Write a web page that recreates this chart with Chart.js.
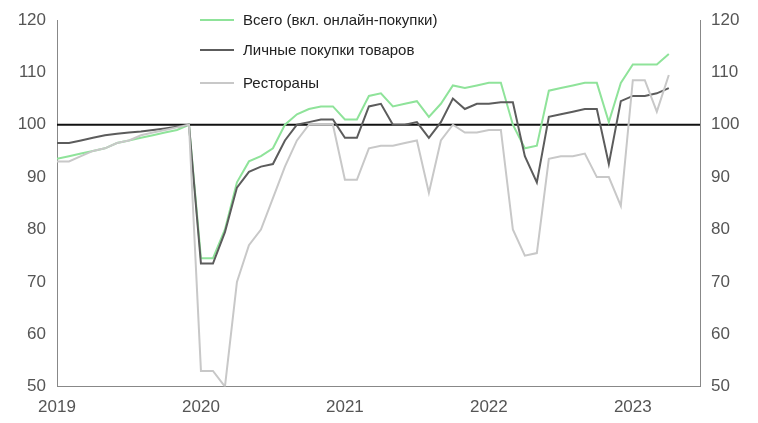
<!DOCTYPE html><html><head><meta charset="utf-8">
<script src="https://cdn.jsdelivr.net/npm/chart.js@4"></script>
<style>body{margin:0;background:#fff;font-family:"Liberation Sans",Arial,sans-serif}
#w{position:relative;width:758px;height:423px}
.lg{position:absolute;left:200px;font-size:15px;color:#222;display:flex;align-items:center}
.lg span{display:inline-block;width:34px;height:2px;margin-right:9px}</style></head><body>
<div id="w"><canvas id="c" width="758" height="423"></canvas>
<div class="lg" style="top:11px"><span style="background:#8fe39a"></span>Всего (вкл. онлайн-покупки)</div>
<div class="lg" style="top:41px"><span style="background:#5c5c5c"></span>Личные покупки товаров</div>
<div class="lg" style="top:74px"><span style="background:#c8c8c8"></span>Рестораны</div>
</div>
<script>
const years=['2019','2020','2021','2022','2023'];
const total=[93.5,94,94.5,95,95.5,96.5,97,97.5,98,98.5,99,100,
74.5,74.5,80,89,93,94,95.5,100,102,103,103.5,103.5,
101,101,105.5,106,103.5,104,104.5,101.5,104,107.5,107,107.5,
108,108,100,95.5,96,106.5,107,107.5,108,108,100.5,108,
111.5,111.5,111.5,113.5];
const personal=[96.5,96.5,97,97.5,98,98.3,98.5,98.7,99,99.3,99.6,100,
73.5,73.5,79.5,88,91,92,92.5,97,100,100.5,101,101,
97.5,97.5,103.5,104,100,100,100.5,97.5,100.5,105,103,104,
104,104.3,104.3,94,89,101.5,102,102.5,103,103,92.5,104.5,
105.5,105.5,106,107];
const restaurants=[93,93,94,95,95.5,96.5,97,98,98.5,99,99.5,100,
53,53,50,70,77,80,86,92,97,100,100,100,
89.5,89.5,95.5,96,96,96.5,97,87,97,100,98.5,98.5,
99,99,80,75,75.5,93.5,94,94,94.5,90,90,84.5,
108.5,108.5,102.5,109.5];
const refLevel=100, xMax=53.6;
const pts=a=>a.map((v,i)=>({x:i,y:v}));
const tk={color:'#555',font:{size:17,family:'Liberation Sans'}};
new Chart(document.getElementById('c'),{type:'line',
data:{datasets:[
{data:pts(restaurants),borderColor:'#c8c8c8',borderWidth:2,pointRadius:0,tension:0},
{data:pts(personal),borderColor:'#5c5c5c',borderWidth:2,pointRadius:0,tension:0},
{data:pts(total),borderColor:'#8fe39a',borderWidth:2,pointRadius:0,tension:0},
{data:[{x:0,y:refLevel},{x:xMax,y:refLevel}],borderColor:'#111',borderWidth:2,pointRadius:0}
]},
options:{responsive:false,animation:false,layout:{padding:{top:20,bottom:2,left:0,right:0}},
plugins:{legend:{display:false},tooltip:{enabled:false}},
scales:{
x:{type:'linear',min:0,max:xMax,grid:{display:false,drawTicks:true},border:{color:'#888'},
 afterBuildTicks:s=>{s.ticks=years.map((y,i)=>({value:i*12}));},
 ticks:{...tk,callback:(v)=>years[v/12]}},
y:{min:50,max:120,position:'left',grid:{display:false},border:{color:'#888'},ticks:{...tk,stepSize:10},afterFit:s=>{s.width=57}},
y2:{min:50,max:120,position:'right',grid:{display:false},border:{color:'#888'},ticks:{...tk,stepSize:10},afterFit:s=>{s.width=58}}
}}});
</script></body></html>
